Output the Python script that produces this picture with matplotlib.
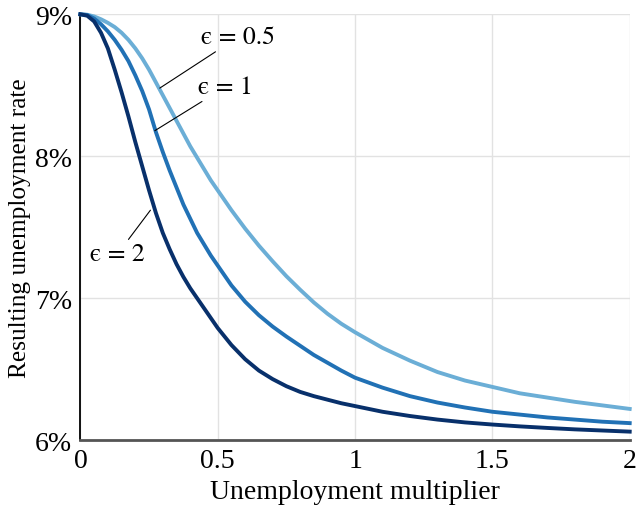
from matplotlib import use
use('Agg')
import matplotlib.pyplot as plt

plt.rcParams['font.family'] = ['Liberation Serif', 'DejaVu Serif']
plt.rcParams['mathtext.fontset'] = 'stix'

# unemployment multiplier
mult = [0, 0.025, 0.05, 0.075, 0.1, 0.125, 0.15, 0.175, 0.2, 0.225, 0.25,
        0.275, 0.3, 0.325, 0.35, 0.375, 0.4, 0.425, 0.45, 0.475, 0.5,
        0.55, 0.6, 0.65, 0.7, 0.75, 0.8, 0.85, 0.9, 0.95, 1.0,
        1.1, 1.2, 1.3, 1.4, 1.5, 1.6, 1.7, 1.8, 1.9, 2.0]

# resulting unemployment rate (%) for each epsilon
rate_eps05 = [9.0, 8.997, 8.985, 8.965, 8.94, 8.91, 8.87, 8.82, 8.76, 8.69, 8.61,
              8.52, 8.43, 8.34, 8.25, 8.16, 8.07, 7.99, 7.91, 7.83, 7.76,
              7.62, 7.49, 7.37, 7.26, 7.155, 7.06, 6.97, 6.89, 6.82, 6.76,
              6.65, 6.56, 6.48, 6.42, 6.375, 6.33, 6.30, 6.27, 6.245, 6.22]
rate_eps1 = [9.0, 8.995, 8.97, 8.93, 8.88, 8.82, 8.75, 8.67, 8.57, 8.46, 8.33,
             8.17, 8.03, 7.90, 7.78, 7.66, 7.56, 7.46, 7.38, 7.30, 7.23,
             7.09, 6.975, 6.88, 6.80, 6.73, 6.665, 6.60, 6.545, 6.49, 6.44,
             6.37, 6.31, 6.265, 6.23, 6.20, 6.18, 6.16, 6.145, 6.13, 6.12]
rate_eps2 = [9.0, 8.99, 8.95, 8.87, 8.76, 8.61, 8.45, 8.28, 8.10, 7.93, 7.76,
             7.60, 7.46, 7.345, 7.24, 7.15, 7.07, 7.00, 6.93, 6.86, 6.79,
             6.67, 6.57, 6.49, 6.43, 6.38, 6.34, 6.31, 6.285, 6.26, 6.24,
             6.20, 6.17, 6.145, 6.125, 6.11, 6.097, 6.086, 6.076, 6.068, 6.06]

labels = ['\u03f5 = 0.5', '\u03f5 = 1', '\u03f5 = 2']

xticks = [0, 0.5, 1, 1.5, 2]
xticklabels = ['0', '0.5', '1', '1.5', '2']
yticks = [6, 7, 8, 9]
yticklabels = ['6%', '7%', '8%', '9%']

fig = plt.figure(figsize=(6.38, 5.10), dpi=100)
ax = fig.add_axes([0.126, 0.135, 0.861, 0.835])

ax.plot(mult, rate_eps05, color='#6baed6', lw=2.8, clip_on=False, zorder=3)
ax.plot(mult, rate_eps1, color='#2171b5', lw=2.8, clip_on=False, zorder=3)
ax.plot(mult, rate_eps2, color='#08306b', lw=2.8, clip_on=False, zorder=3)

ax.set_xlim(0, 2)
ax.set_ylim(6, 9)
ax.set_xticks(xticks)
ax.set_xticklabels(xticklabels)
ax.set_yticks(yticks)
ax.set_yticklabels(yticklabels)
ax.tick_params(length=0, labelsize=20, pad=6)
ax.grid(color='#e2e2e2', lw=1)
ax.set_axisbelow(True)

for s in ['top', 'right']:
    ax.spines[s].set_visible(False)
ax.spines['left'].set_color('black')
ax.spines['left'].set_linewidth(1.3)
ax.spines['bottom'].set_color('#555555')
ax.spines['bottom'].set_linewidth(2)

ax.set_xlabel('Unemployment multiplier', fontsize=20, labelpad=4)
ax.set_ylabel('Resulting unemployment rate', fontsize=18.3, labelpad=3)

# epsilon labels: STIX has the lunate epsilon, Liberation Serif for the rest
lab_font = ['STIXGeneral', 'Liberation Serif', 'DejaVu Serif']
arrow = dict(arrowstyle='-', color='black', lw=0.8, shrinkA=0, shrinkB=0)
ax.annotate(labels[0], xy=(0.289, 8.48), xytext=(0.44, 8.84), family=lab_font,
            fontsize=18.5, va='center', ha='left', arrowprops=arrow)
ax.annotate(labels[1], xy=(0.271, 8.18), xytext=(0.43, 8.49), family=lab_font,
            fontsize=18.5, va='center', ha='left', arrowprops=arrow)
ax.annotate(labels[2], xy=(0.255, 7.62), xytext=(0.035, 7.31), family=lab_font,
            fontsize=18.5, va='center', ha='left', arrowprops=arrow)

plt.savefig('out.png')
